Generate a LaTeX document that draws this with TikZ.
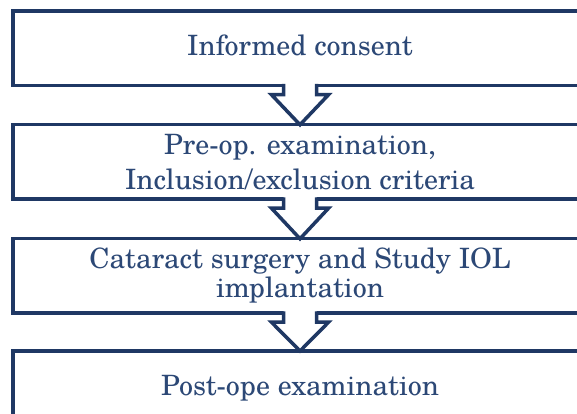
\documentclass[tikz,border=0pt]{standalone}
\usepackage{fontspec}
\setmainfont{TeX Gyre Schola}
\usetikzlibrary{calc}
\definecolor{navy}{RGB}{31,56,100}
\definecolor{textnavy}{RGB}{44,72,118}
\tikzset{
  box/.style={draw=navy, line width=3.5pt, fill=white, minimum width=574pt,
    minimum height=74.5pt, inner sep=0pt, outer sep=0pt, align=center,
    text=textnavy, font=\fontsize{28}{29}\selectfont},
  oneline/.style={text height=20pt, text depth=5pt},
  arrline/.style={draw=navy, line width=3.5pt, line join=miter},
}
\begin{document}
\begin{tikzpicture}[x=1pt,y=1pt]
\useasboundingbox (0,0) rectangle (577,414);
\fill[white] (0,0) rectangle (577,414);
\clip (0,0) rectangle (577,414);
\node[box, oneline] (b1) at (300,365.5) {Informed consent};
\node[box] (b2) at (300,252) {Pre-op. examination,\\[6pt]Inclusion/exclusion criteria};
\node[box] (b3) at (300,138) {Cataract surgery and Study IOL\\implantation};
\node[box, oneline] (b4) at (300,25.75) {Post-ope examination};
\foreach \p/\q in {b1/b2,b2/b3,b3/b4}{
  \coordinate (s) at (\p.south);
  \coordinate (t) at (\q.north);
  \fill[white] ($(s)+(-16.5,3)$) -- ($(s)+(-16.5,-9)$) -- ($(s)+(-28.5,-9)$) -- (t)
    -- ($(s)+(28.5,-9)$) -- ($(s)+(16.5,-9)$) -- ($(s)+(16.5,3)$) -- cycle;
  \draw[arrline] ($(s)+(-16.5,1.75)$) -- ($(s)+(-16.5,-9)$) -- ($(s)+(-28.5,-9)$) -- (t)
    -- ($(s)+(28.5,-9)$) -- ($(s)+(16.5,-9)$) -- ($(s)+(16.5,1.75)$);
}
\end{tikzpicture}
\end{document}
